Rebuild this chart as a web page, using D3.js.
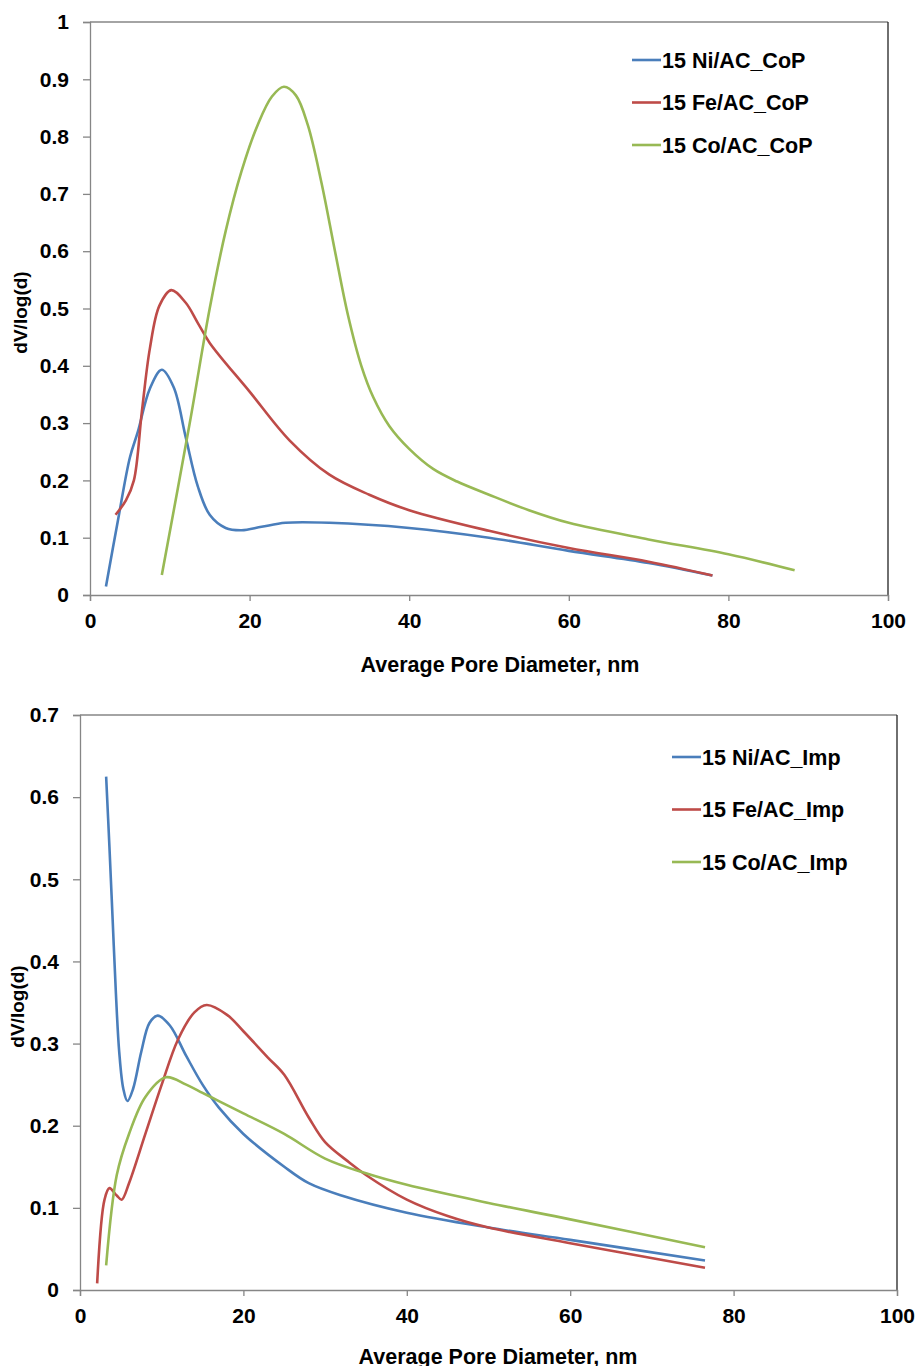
<!DOCTYPE html>
<html><head><meta charset="utf-8">
<script src="https://cdn.jsdelivr.net/npm/d3@7"></script>
<style>
body{margin:0;background:#fff;}
svg text{font-family:"Liberation Sans",Arial,sans-serif;font-weight:bold;fill:#000;}
</style></head>
<body><svg id="c" width="915" height="1366"></svg>
<script>
// ---- data ----
const xTicks = [0,20,40,60,80,100];
const yTicksTop = [0,0.1,0.2,0.3,0.4,0.5,0.6,0.7,0.8,0.9,1];
const yTicksBot = [0,0.1,0.2,0.3,0.4,0.5,0.6,0.7];
const yTickLabelsTop = ["0","0.1","0.2","0.3","0.4","0.5","0.6","0.7","0.8","0.9","1"];
const yTickLabelsBot = ["0","0.1","0.2","0.3","0.4","0.5","0.6","0.7"];
const namesTop = ["15 Ni/AC_CoP","15 Fe/AC_CoP","15 Co/AC_CoP"];
const namesBot = ["15 Ni/AC_Imp","15 Fe/AC_Imp","15 Co/AC_Imp"];
const seriesColors = ["#4a7ebb","#be4b48","#98b954"];

const niCoP = [[2,0.015],[3.5,0.13],[5,0.24],[6,0.285],[7.5,0.36],[9,0.393],[10.5,0.362],[12,0.275],[13.5,0.19],[15,0.14],[17,0.117],[19,0.113],[21.5,0.119],[24.5,0.126],[30,0.126],[40,0.117],[50,0.1],[60,0.077],[70,0.056],[78,0.034]];
const feCoP = [[3.2,0.14],[4.5,0.165],[5.5,0.2],[6.5,0.32],[7.5,0.43],[8.7,0.505],[10.2,0.532],[12,0.51],[13.5,0.475],[15,0.44],[20,0.355],[25,0.27],[30,0.21],[35,0.175],[40,0.148],[50,0.112],[60,0.082],[70,0.058],[78,0.034]];
const coCoP = [[9,0.035],[12.5,0.3],[15,0.5],[17,0.635],[19,0.74],[21,0.82],[22.8,0.87],[24.3,0.887],[25.8,0.872],[27.3,0.82],[29,0.72],[30.7,0.6],[32.3,0.49],[34,0.4],[35.5,0.345],[37.5,0.295],[40,0.255],[43,0.22],[46,0.198],[50,0.175],[55,0.148],[60,0.126],[70,0.097],[80,0.071],[88.3,0.043]];

const niImp = [[3.2,0.625],[3.6,0.54],[4.0,0.45],[4.4,0.36],[4.8,0.29],[5.3,0.245],[5.8,0.23],[6.5,0.245],[7.5,0.29],[8.5,0.325],[9.5,0.334],[11,0.322],[13,0.285],[15,0.25],[17,0.222],[20,0.19],[25,0.15],[28,0.13],[32,0.115],[40,0.094],[50,0.076],[60,0.061],[76.5,0.036]];
const feImp = [[2.1,0.008],[3,0.11],[3.6,0.124],[4.5,0.115],[5.1,0.11],[6,0.13],[8,0.19],[10,0.25],[12,0.305],[14,0.338],[15.5,0.347],[18,0.335],[20,0.315],[23,0.283],[25,0.262],[28,0.21],[30,0.18],[33,0.155],[35,0.14],[40,0.11],[45,0.09],[50,0.076],[60,0.057],[76.5,0.027]];
const coImp = [[3.2,0.03],[4.5,0.14],[6,0.19],[8,0.235],[10.5,0.259],[13,0.25],[15,0.24],[17,0.23],[20,0.215],[25,0.19],[30,0.16],[35,0.142],[40,0.128],[50,0.106],[60,0.086],[76.5,0.052]];

const svg = d3.select("#c");

function chart(cfg){
  const g = svg.append("g");
  const x = d3.scaleLinear().domain([0,100]).range([cfg.left,cfg.right]);
  const y = d3.scaleLinear().domain([0,cfg.ymax]).range([cfg.bottom,cfg.top]);
  g.append("line").attr("x1",cfg.left).attr("x2",cfg.right).attr("y1",cfg.top).attr("y2",cfg.top).attr("stroke","#868686").attr("stroke-width",1.3);
  g.append("line").attr("x1",cfg.right).attr("x2",cfg.right).attr("y1",cfg.top).attr("y2",cfg.bottom).attr("stroke","#222").attr("stroke-width",1.3);
  const xa = g.append("g").attr("transform",`translate(0,${cfg.bottom})`)
    .call(d3.axisBottom(x).tickValues(xTicks).tickSize(6).tickPadding(12).tickFormat(d3.format("d")));
  const ya = g.append("g").attr("transform",`translate(${cfg.left},0)`)
    .call(d3.axisLeft(y).tickValues(cfg.yTicks).tickSize(7).tickPadding(14).tickFormat((d,i)=>cfg.yLabels[i]));
  [xa,ya].forEach(a=>{
    a.select(".domain").attr("stroke","#868686").attr("stroke-width",1.3);
    a.selectAll(".tick line").attr("stroke","#868686").attr("stroke-width",1.3);
    a.selectAll("text").style("font-size","21px").style("font-weight","bold").attr("fill","#000");
  });
  const line = d3.line().x(d=>x(d[0])).y(d=>y(d[1])).curve(d3.curveCatmullRom.alpha(0.5));
  cfg.series.forEach((s,i)=>{
    g.append("path").datum(s).attr("d",line).attr("fill","none")
      .attr("stroke",seriesColors[i]).attr("stroke-width",2.6).attr("stroke-linejoin","round");
  });
  cfg.names.forEach((n,i)=>{
    const ly = cfg.legY + i*cfg.legGap;
    g.append("line").attr("x1",cfg.legX).attr("x2",cfg.legX+29).attr("y1",ly).attr("y2",ly)
      .attr("stroke",seriesColors[i]).attr("stroke-width",2.6);
    g.append("text").attr("x",cfg.legX+30).attr("y",ly).attr("dy","0.35em")
      .style("font-size","21.5px").text(n);
  });
  g.append("text").attr("x",cfg.xTitleX).attr("y",cfg.xTitleY).attr("text-anchor","middle")
    .style("font-size","21.5px").text("Average Pore Diameter, nm");
  g.append("text").attr("transform",`translate(${cfg.yTitleX},${(cfg.top+cfg.bottom)/2+4}) rotate(-90)`)
    .attr("text-anchor","middle").style("font-size","19px").text("dV/log(d)");
}

chart({left:90,right:888,top:22,bottom:595,ymax:1,yTicks:yTicksTop,yLabels:yTickLabelsTop,
  series:[niCoP,feCoP,coCoP],names:namesTop,legX:632,legY:60,legGap:42.5,xTitleX:500,xTitleY:672,yTitleX:27});
chart({left:80,right:897,top:715,bottom:1290,ymax:0.7,yTicks:yTicksBot,yLabels:yTickLabelsBot,
  series:[niImp,feImp,coImp],names:namesBot,legX:672,legY:757,legGap:52.5,xTitleX:498,xTitleY:1364,yTitleX:24});
</script></body></html>
